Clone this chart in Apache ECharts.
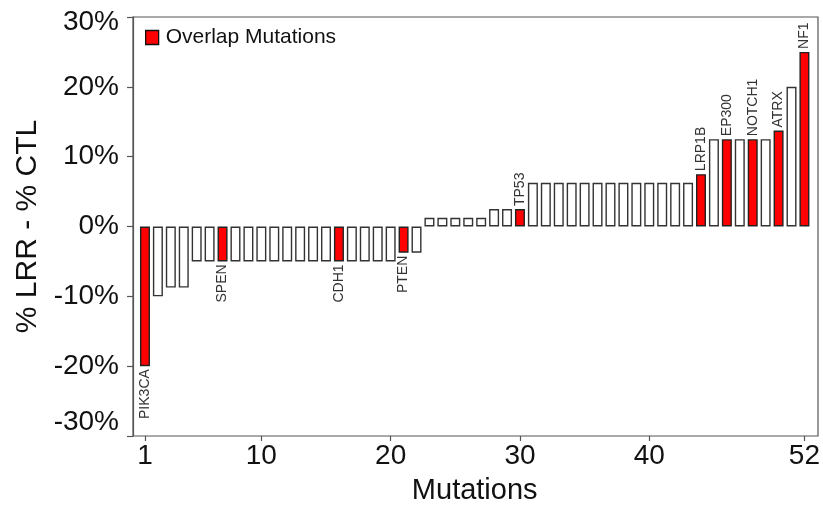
<!DOCTYPE html>
<html>
<head>
<meta charset="utf-8">
<script src="https://cdn.jsdelivr.net/npm/echarts@6/dist/echarts.min.js"></script>
<style>html,body{margin:0;padding:0;background:#fff;}#c{width:823px;height:510px;}</style>
</head>
<body>
<div id="c"></div>
<script>
// ---- data ----
const categories = Array.from({length: 52}, (_, i) => String(i + 1));
const values = [
  -20, -10, -8.75, -8.75, -5, -5, -5, -5, -5, -5,
  -5, -5, -5, -5, -5, -5, -5, -5, -5, -5,
  -3.75, -3.75, 1.25, 1.25, 1.25, 1.25, 1.25, 2.5, 2.5, 2.5,
  6.25, 6.25, 6.25, 6.25, 6.25, 6.25, 6.25, 6.25, 6.25, 6.25,
  6.25, 6.25, 6.25, 7.5, 12.5, 12.5, 12.5, 12.5, 12.5, 13.75,
  20, 25
];
const geneLabels = [
  'PIK3CA', '', '', '', '', '', 'SPEN', '', '', '',
  '', '', '', '', '', 'CDH1', '', '', '', '',
  'PTEN', '', '', '', '', '', '', '', '', 'TP53',
  '', '', '', '', '', '', '', '', '', '',
  '', '', '', 'LRP1B', '', 'EP300', '', 'NOTCH1', '', 'ATRX',
  '', 'NF1'
];
const xTickLabels = ['1', '10', '20', '30', '40', '52'];
const yTicks = [-30, -20, -10, 0, 10, 20, 30];

// ---- build ----
const FONT = 'Liberation Sans, Arial, sans-serif';
const showIdx = new Set(xTickLabels.map(l => categories.indexOf(l)));

const redData = values.map((v, i) => {
  if (!geneLabels[i]) return '-';
  const pos = v >= 0;
  return {
    value: v,
    label: {
      show: true,
      formatter: geneLabels[i],
      position: pos ? 'top' : 'bottom',
      rotate: 90,
      align: pos ? 'left' : 'right',
      verticalAlign: 'middle',
      distance: 3,
      fontSize: 14,
      color: '#333',
      fontFamily: FONT
    }
  };
});
const whiteData = values.map((v, i) => geneLabels[i] ? '-' : v);

const chart = echarts.init(document.getElementById('c'), null, {renderer: 'canvas'});
chart.setOption({
  animation: false,
  backgroundColor: '#fff',
  textStyle: {fontFamily: FONT},
  grid: [
    {left: 138.5, right: 10.5, top: 17, bottom: 74},
    {left: 133, right: 5, top: 17, bottom: 74, show: true, borderColor: '#555', borderWidth: 1.2, backgroundColor: 'transparent'}
  ],
  legend: {
    data: [{name: 'Overlap Mutations', icon: 'rect'}],
    left: 145, top: 27, padding: 0,
    itemWidth: 13, itemHeight: 14,
    textStyle: {fontSize: 21, color: '#111', fontFamily: FONT, padding: [0, 0, 0, 2]},
    itemStyle: {borderColor: '#111', borderWidth: 1.3}
  },
  xAxis: [
    {
      type: 'category', gridIndex: 0, data: categories, boundaryGap: true,
      position: 'bottom',
      axisLine: {show: false, onZero: false},
      axisTick: {show: true, alignWithLabel: true, length: 5, lineStyle: {color: '#555', width: 1.2},
        interval: (idx) => showIdx.has(idx)},
      axisLabel: {interval: (idx) => showIdx.has(idx), fontSize: 28, color: '#111', margin: 6, fontFamily: FONT},
      name: 'Mutations', nameLocation: 'middle', nameGap: 40,
      nameTextStyle: {fontSize: 29, color: '#111', fontFamily: FONT}
    },
    {type: 'category', gridIndex: 1, data: categories, show: false}
  ],
  yAxis: [
    {type: 'value', gridIndex: 0, min: -30, max: 30, interval: 10, show: false},
    {
      type: 'value', gridIndex: 1, min: -30, max: 30, interval: 10,
      axisLine: {show: true, lineStyle: {color: '#555', width: 1.2}},
      axisTick: {show: true, length: 6, lineStyle: {color: '#555', width: 1.2}},
      splitLine: {show: false},
      axisLabel: {
        fontSize: 28, color: '#111', margin: 14, fontFamily: FONT,
        formatter: (v) => v === 30 ? '{top|' + v + '%}' : v + '%',
        rich: {top: {fontSize: 28, color: '#111', fontFamily: FONT, padding: [10, 0, 0, 0]}},
        verticalAlignMinLabel: 'bottom'
      },
      name: '% LRR - % CTL', nameLocation: 'middle', nameGap: 87, nameRotate: 90,
      nameTextStyle: {fontSize: 30, color: '#111', fontFamily: FONT}
    }
  ],
  series: [
    {
      name: 'Overlap Mutations', type: 'bar', xAxisIndex: 0, yAxisIndex: 0,
      data: redData, barWidth: 10, barGap: '-100%',
      itemStyle: {color: '#ff0000', borderColor: '#222', borderWidth: 1.4}
    },
    {
      name: 'Other', type: 'bar', xAxisIndex: 0, yAxisIndex: 0,
      data: whiteData, barWidth: 10, barGap: '-100%',
      itemStyle: {color: '#ffffff', borderColor: '#333', borderWidth: 1.4}
    }
  ]
});
</script>
</body>
</html>
